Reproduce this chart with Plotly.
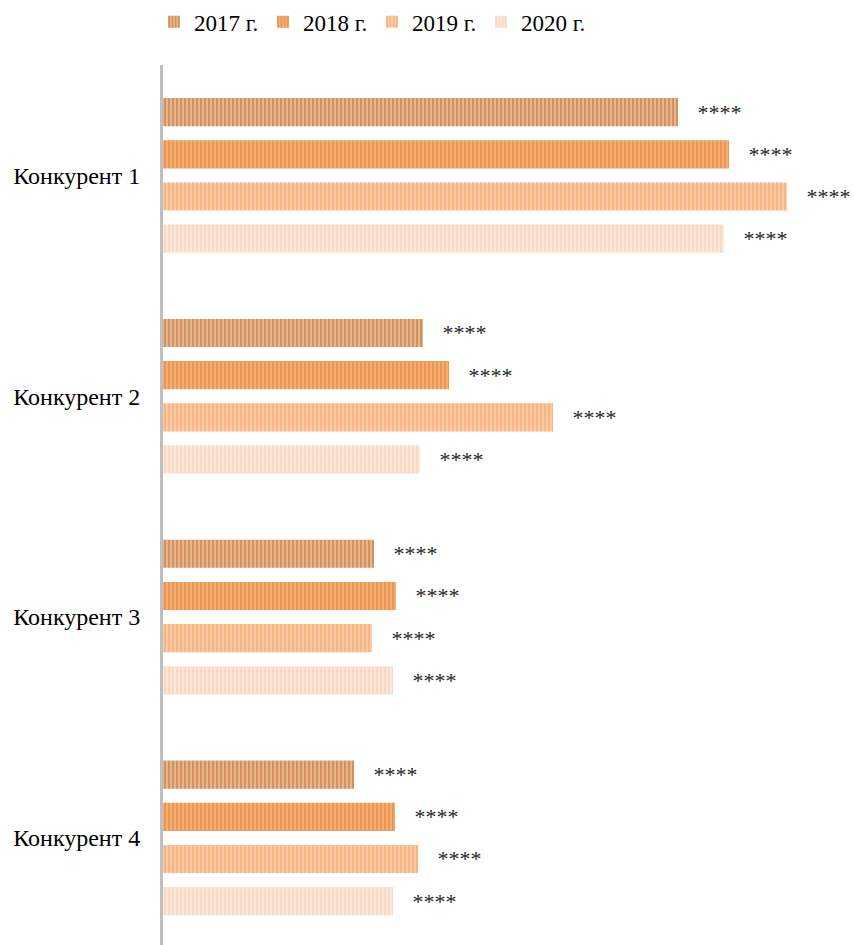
import plotly.graph_objects as go

# Competitor categories, top to bottom
competitors = ["Конкурент 1", "Конкурент 2", "Конкурент 3", "Конкурент 4"]
years = ["2017 г.", "2018 г.", "2019 г.", "2020 г."]

# Indicator values per year (arbitrary units)
v2017 = [515, 260, 211, 191]
v2018 = [566, 286, 233, 232]
v2019 = [624, 390, 209, 255]
v2020 = [561, 257, 230, 230]
series = [v2017, v2018, v2019, v2020]

# Value labels are masked
mask_label = "****"

# Stripe colors: (foreground stripe, background)
fg_colors = ["#b86424", "#e0782a", "#f5975a", "#f8c4a2"]
bg_colors = ["#ecbf98", "#f6b47c", "#fcd0ae", "#fdece0"]

fig = go.Figure()
for name, vals, fg, bg in zip(years, series, fg_colors, bg_colors):
    fig.add_trace(go.Bar(
        name=name,
        y=list(range(len(competitors))),
        x=vals,
        orientation="h",
        marker=dict(
            color=bg,
            line=dict(width=0),
            pattern=dict(shape="|", fgcolor=fg, bgcolor=bg, size=4, solidity=0.6,
                         fillmode="overlay"),
        ),
        text=["\u00a0\u00a0\u00a0" + mask_label] * len(vals),
        textposition="outside",
        textfont=dict(family="Liberation Serif", size=22, color="#262626"),
        cliponaxis=False,
    ))

fig.update_layout(
    width=854, height=945,
    margin=dict(l=163, r=0, t=65, b=0),
    paper_bgcolor="white", plot_bgcolor="white",
    barmode="group", bargap=0.236, bargroupgap=0.333,
    font=dict(family="Liberation Serif", size=24, color="#000000"),
    showlegend=True,
    legend=dict(orientation="h", xref="container", x=154 / 854, xanchor="left",
                yref="container", y=0.977, yanchor="middle",
                font=dict(size=23), itemwidth=30,
                entrywidth=64, entrywidthmode="pixels",
                traceorder="normal"),
    xaxis=dict(range=[0, 691], showgrid=False, zeroline=False, showticklabels=False,
               showline=False, fixedrange=True),
    yaxis=dict(tickvals=list(range(len(competitors))), ticktext=competitors,
               range=[3.485, -0.5], showgrid=False, zeroline=False,
               showline=True, linecolor="#bfbfbf", linewidth=3,
               ticks="", ticklabelstandoff=15, tickfont=dict(size=24)),
)

fig.write_html("out.html")
